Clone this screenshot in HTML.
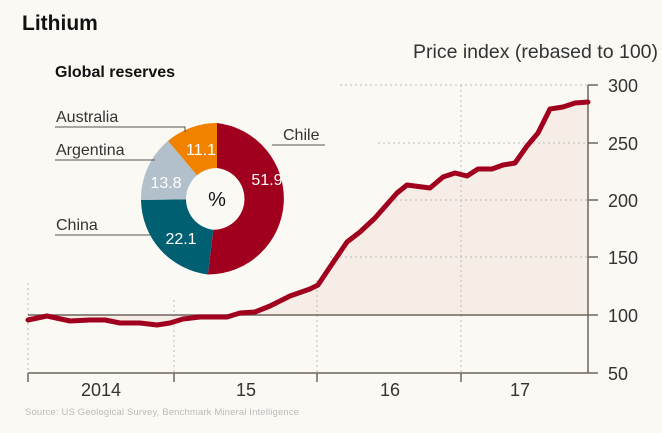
<!DOCTYPE html>
<html><head><style>
html,body{margin:0;padding:0;background:#fbf9f4;}
svg{display:block;font-family:"Liberation Sans",sans-serif;}
</style></head><body>
<svg width="662" height="433" viewBox="0 0 662 433">
<rect width="662" height="433" fill="#fbf9f4"/>
<text x="22" y="30" font-size="21" font-weight="bold" fill="#111">Lithium</text>
<text x="413" y="58" font-size="19" fill="#333" textLength="245" lengthAdjust="spacingAndGlyphs">Price index (rebased to 100)</text>
<path d="M28,315 L28,320 47,316 70,321 90,320 105,320 120,323 140,323 157,325 170,323 183,319 200,317 227,317 240,313 255,312 270,306 290,296 310,289 318,285 330,267 347,242 360,232 375,218 397,193 407,185 430,188 443,177 455,173 467,176 478,169 492,169 503,165 515,163 527,146 538,133 550,109 563,107 575,103 588,102 L588,315 Z" fill="#f5ede6"/>
<g stroke="#bbb" stroke-dasharray="2,3" stroke-width="1">
<line x1="340" y1="85" x2="588" y2="85"/>
<line x1="378" y1="143" x2="588" y2="143"/>
<line x1="390" y1="200" x2="588" y2="200"/>
<line x1="330" y1="257" x2="588" y2="257"/>
<line x1="28" y1="283" x2="28" y2="373"/>
<line x1="174" y1="300" x2="174" y2="373"/>
<line x1="317" y1="280" x2="317" y2="373"/>
<line x1="461" y1="85" x2="461" y2="373"/>
</g>
<g stroke="#6e645c" stroke-width="1.5" fill="none">
<line x1="28" y1="315" x2="598" y2="315"/>
<line x1="28" y1="373" x2="598" y2="373"/>
<line x1="588" y1="85" x2="588" y2="373"/>
<line x1="588" y1="85" x2="598" y2="85"/>
<line x1="588" y1="143" x2="598" y2="143"/>
<line x1="588" y1="200" x2="598" y2="200"/>
<line x1="588" y1="257" x2="598" y2="257"/>
<line x1="28" y1="373" x2="28" y2="382"/>
<line x1="174" y1="373" x2="174" y2="382"/>
<line x1="317" y1="373" x2="317" y2="382"/>
<line x1="461" y1="373" x2="461" y2="382"/>
</g>
<g font-size="18" fill="#333">
<text x="608" y="92">300</text><text x="608" y="150">250</text><text x="608" y="207">200</text>
<text x="608" y="264">150</text><text x="608" y="322">100</text><text x="608" y="380">50</text>
<text x="101" y="396" text-anchor="middle">2014</text>
<text x="246" y="396" text-anchor="middle">15</text>
<text x="390" y="396" text-anchor="middle">16</text>
<text x="520" y="396" text-anchor="middle">17</text>
</g>
<text x="25" y="415" font-size="9.5" fill="#bbb" textLength="274">Source: US Geological Survey,  Benchmark Mineral Intelligence</text>
<polyline fill="none" stroke="#a0001e" stroke-width="5" stroke-linejoin="round" stroke-linecap="round" points="28,320 47,316 70,321 90,320 105,320 120,323 140,323 157,325 170,323 183,319 200,317 227,317 240,313 255,312 270,306 290,296 310,289 318,285 330,267 347,242 360,232 375,218 397,193 407,185 430,188 443,177 455,173 467,176 478,169 492,169 503,165 515,163 527,146 538,133 550,109 563,107 575,103 588,102"/>
<text x="55" y="77" font-size="16" font-weight="bold" fill="#111">Global reserves</text>
<g transform="translate(217,199)">
<path d="M0,-76 A76,76 0 0 1 -9.1,75.45 L-3.7,30.8 A31,31 0 0 0 0,-31 Z" fill="#a0001e"/>
<path d="M-9.1,75.45 A76,76 0 0 1 -76,0.9 L-31,0.4 A31,31 0 0 0 -3.7,30.8 Z" fill="#005f71"/>
<path d="M-76,0.9 A76,76 0 0 1 -49,-58.1 L-20,-23.7 A31,31 0 0 0 -31,0.4 Z" fill="#b1c0cb"/>
<path d="M-49,-58.1 A76,76 0 0 1 0,-76 L0,-31 A31,31 0 0 0 -20,-23.7 Z" fill="#f08200"/>
<g font-size="16" fill="#fff" text-anchor="middle">
<text x="50" y="-14">51.9</text><text x="-36" y="45">22.1</text>
<text x="-51" y="-11">13.8</text><text x="-16" y="-44">11.1</text>
</g>
<text x="0" y="7" font-size="20" fill="#111" text-anchor="middle">%</text>
</g>
<g stroke="#555" stroke-width="1" fill="none">
<polyline points="55,127 185,127 185,132"/>
<line x1="55" y1="160" x2="155" y2="160"/>
<line x1="55" y1="235" x2="150" y2="235"/>
<line x1="272" y1="145" x2="325" y2="145"/>
</g>
<g font-size="16" fill="#333">
<text x="56" y="122">Australia</text>
<text x="56" y="155">Argentina</text>
<text x="56" y="230">China</text>
<text x="283" y="140">Chile</text>
</g>
</svg>
</body></html>
